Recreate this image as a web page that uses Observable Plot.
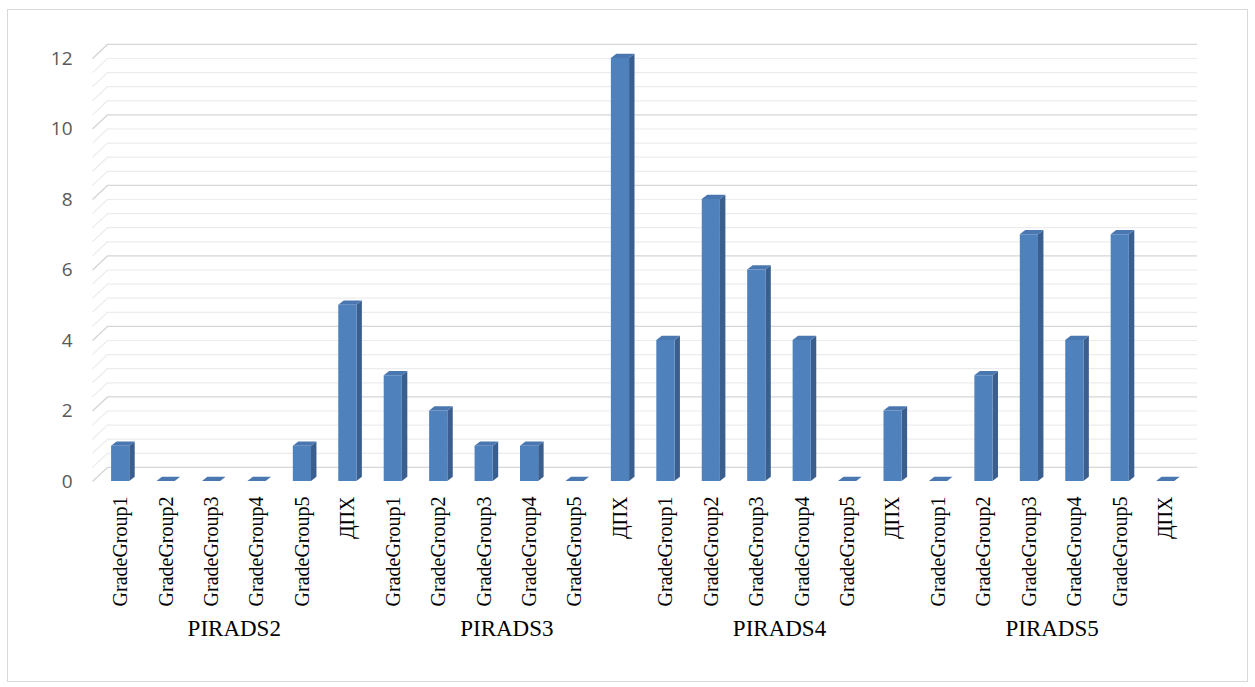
<!DOCTYPE html>
<html>
<head>
<meta charset="utf-8">
<script src="https://cdn.jsdelivr.net/npm/d3@7"></script>
<script src="https://cdn.jsdelivr.net/npm/@observablehq/plot@0.6"></script>
<style>
  html, body { margin: 0; padding: 0; background: #fff; }
  #wrap { position: relative; width: 1255px; height: 687px; }
  #border { position: absolute; left: 7px; top: 9px; width: 1239px; height: 671px;
            border: 1.5px solid #d9d9d9; pointer-events: none; }
</style>
</head>
<body>
<div id="wrap"><div id="border"></div></div>
<script>
// Groups and the categories repeated inside each group
const groups = ["PIRADS2", "PIRADS3", "PIRADS4", "PIRADS5"];
const grades = ["GradeGroup1", "GradeGroup2", "GradeGroup3", "GradeGroup4", "GradeGroup5", "ДПХ"];

// Counts per group, in the order of `grades`
const pirads2 = [1, 0, 0, 0, 1, 5];
const pirads3 = [3, 2, 1, 1, 0, 12];
const pirads4 = [4, 8, 6, 4, 0, 2];
const pirads5 = [0, 3, 7, 4, 7, 0];

const yTicks = [0, 2, 4, 6, 8, 10, 12];

// Flat table: one row per bar
const series = [pirads2, pirads3, pirads4, pirads5];
const rows = [];
series.forEach((vals, g) => vals.forEach((v, k) => rows.push({
  i: g * grades.length + k, group: groups[g], grade: grades[k], value: v
})));

// Pseudo-3D geometry (in data units)
const hw = 0.2;        // half width of the bar's front face
const ddx = 0.12;      // depth offset along x
const ddy = 0.12;      // depth offset along y
const wallDepth = 0.4; // back wall is this far "up" from the front edge
const frontLeft = -0.62, backLeft = -0.29, backRight = 23.7;

// Gridline values: minor every 0.4, major every 2
const gridVals = d3.range(0, 31).map(k => +(k * 0.4).toFixed(2));
const isMajor = v => Math.abs(v / 2 - Math.round(v / 2)) < 1e-6;
const minor = gridVals.filter(v => !isMajor(v));
const major = gridVals.filter(isMajor);

// Right side faces and top faces of the columns
const sidePts = rows.flatMap(d => [
  {i: d.i, x: d.i + hw, y1: 0, y2: d.value},
  {i: d.i, x: d.i + hw + ddx, y1: ddy, y2: d.value + ddy}
]);
const topPts = rows.flatMap(d => [
  {i: d.i, y: d.value, x1: d.i - hw, x2: d.i + hw},
  {i: d.i, y: d.value + ddy, x1: d.i - hw + ddx, x2: d.i + hw + ddx}
]);

const groupRows = groups.map((g, j) => ({group: g, center: j * grades.length + (grades.length - 1) / 2}));

const gridLines = (vals, color, w) => [
  Plot.ruleY(vals, {y: d => d + wallDepth, x1: backLeft, x2: backRight, stroke: color, strokeWidth: w}),
  Plot.link(vals, {x1: frontLeft, y1: d => d, x2: backLeft, y2: d => d + wallDepth, stroke: color, strokeWidth: w})
];

const chart = Plot.plot({
  width: 1255,
  height: 687,
  marginLeft: 92,
  marginRight: 58,
  marginTop: 58,
  marginBottom: 206,
  style: {background: "transparent"},
  x: {type: "linear", domain: [frontLeft, backRight]},
  y: {domain: [0, 12]},
  marks: [
    ...gridLines(minor, "#ececec", 1.2),
    ...gridLines(major, "#d6d6d6", 1.4),
    Plot.areaY(sidePts, {x: "x", y1: "y1", y2: "y2", z: "i", fill: "#3a5f8f"}),
    Plot.areaX(topPts, {y: "y", x1: "x1", x2: "x2", z: "i", fill: "#4a77b0"}),
    Plot.rectY(rows.filter(d => d.value > 0), {x1: d => d.i - hw, x2: d => d.i + hw, y1: 0, y2: "value", fill: "#4f81bd"}),
    Plot.axisY(yTicks, {tickSize: 0, tickPadding: 20, fontSize: 19, fill: "#595959",
      fontFamily: "Open Sans, sans-serif"}),
    Plot.axisX(rows.map(d => d.i), {tickSize: 0, tickPadding: 15, tickRotate: -90,
      tickFormat: i => rows[i].grade, fontSize: 20, fill: "#000",
      fontFamily: "Liberation Serif, serif", label: null}),
    Plot.text(groupRows, {x: "center", frameAnchor: "bottom", dy: 154, text: "group",
      fontSize: 23, fill: "#000", fontFamily: "Liberation Serif, serif"})
  ]
});
document.getElementById("wrap").prepend(chart);
</script>
</body>
</html>
